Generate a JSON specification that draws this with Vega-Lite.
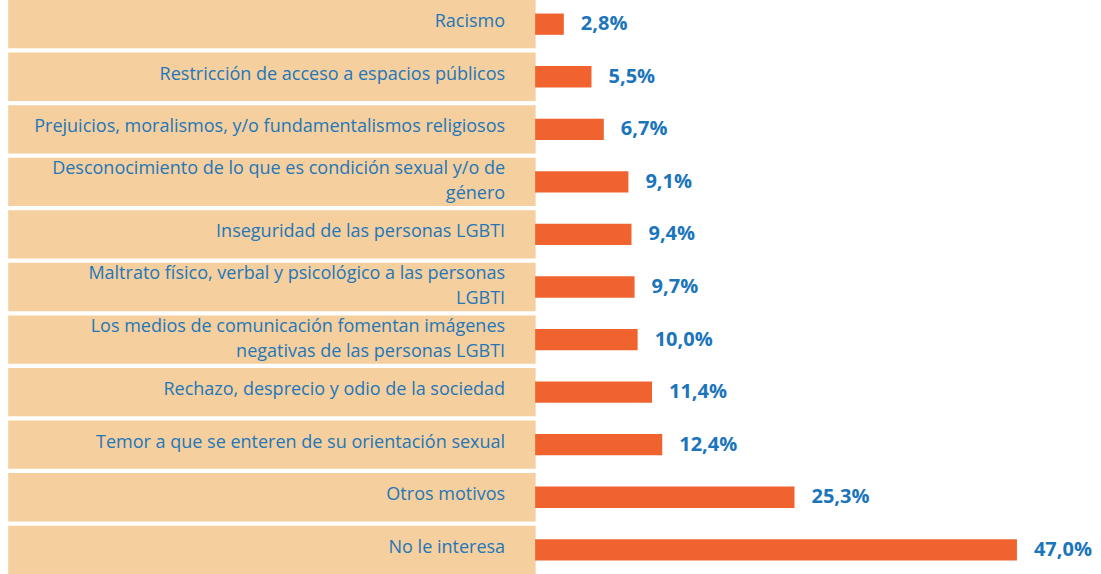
{
  "$schema": "https://vega.github.io/schema/vega-lite/v6.json",
  "width": 1101,
  "height": 574,
  "autosize": {"type": "fit", "contains": "padding"},
  "padding": 0,
  "background": "white",
  "config": {"view": {"stroke": null}},
  "data": {
    "values": [
      {"motivo": "Racismo", "valor": 2.8},
      {"motivo": "Restricción de acceso a espacios públicos", "valor": 5.5},
      {"motivo": "Prejuicios, moralismos, y/o fundamentalismos religiosos", "valor": 6.7},
      {"motivo": "Desconocimiento de lo que es condición sexual y/o de\ngénero", "valor": 9.1},
      {"motivo": "Inseguridad de las personas LGBTI", "valor": 9.4},
      {"motivo": "Maltrato físico, verbal y psicológico a las personas\nLGBTI", "valor": 9.7},
      {"motivo": "Los medios de comunicación fomentan imágenes\nnegativas de las personas LGBTI", "valor": 10.0},
      {"motivo": "Rechazo, desprecio y odio de la sociedad", "valor": 11.4},
      {"motivo": "Temor a que se enteren de su orientación sexual", "valor": 12.4},
      {"motivo": "Otros motivos", "valor": 25.3},
      {"motivo": "No le interesa", "valor": 47.0}
    ]
  },
  "transform": [
    {"calculate": "replace(format(datum.valor, '.1f'), '.', ',') + '%'", "as": "etiqueta"},
    {"calculate": "split(datum.motivo, '\\n')", "as": "lineas"},
    {"calculate": "datum.lineas[0]", "as": "linea1"},
    {"calculate": "length(datum.lineas) > 1 ? datum.lineas[1] : ''", "as": "linea2"},
    {"calculate": "length(datum.lineas)", "as": "nlineas"}
  ],
  "encoding": {
    "y": {
      "field": "motivo",
      "type": "nominal",
      "sort": {"field": "valor", "order": "ascending"},
      "scale": {"paddingInner": 0.08, "paddingOuter": 0},
      "axis": null
    }
  },
  "layer": [
    {
      "mark": {"type": "bar", "color": "#f5cf9d", "orient": "horizontal"},
      "encoding": {
        "x": {"datum": -51.4, "type": "quantitative", "scale": {"domain": [-52.2, 55.2], "nice": false, "zero": false}, "axis": null},
        "x2": {"datum": 0.05}
      }
    },
    {
      "mark": {"type": "bar", "color": "#f1632e", "height": {"band": 0.44}},
      "encoding": {
        "x": {"field": "valor", "type": "quantitative"},
        "x2": {"datum": 0}
      }
    },
    {
      "transform": [{"filter": "datum.nlineas == 1"}],
      "mark": {"type": "text", "align": "right", "baseline": "middle", "font": "Open Sans", "fontSize": 18, "color": "#2277bb", "dy": -2},
      "encoding": {
        "x": {"datum": -2.93, "type": "quantitative"},
        "text": {"field": "linea1"}
      }
    },
    {
      "transform": [{"filter": "datum.nlineas > 1"}],
      "mark": {"type": "text", "align": "right", "baseline": "middle", "font": "Open Sans", "fontSize": 18, "color": "#2277bb", "dy": -13},
      "encoding": {
        "x": {"datum": -2.93, "type": "quantitative"},
        "text": {"field": "linea1"}
      }
    },
    {
      "transform": [{"filter": "datum.nlineas > 1"}],
      "mark": {"type": "text", "align": "right", "baseline": "middle", "font": "Open Sans", "fontSize": 18, "color": "#2277bb", "dy": 12},
      "encoding": {
        "x": {"datum": -2.93, "type": "quantitative"},
        "text": {"field": "linea2"}
      }
    },
    {
      "mark": {"type": "text", "align": "left", "baseline": "middle", "font": "Open Sans", "fontSize": 20, "fontWeight": "bold", "color": "#1b75bb", "dx": 17},
      "encoding": {
        "x": {"field": "valor", "type": "quantitative"},
        "text": {"field": "etiqueta"}
      }
    }
  ]
}
